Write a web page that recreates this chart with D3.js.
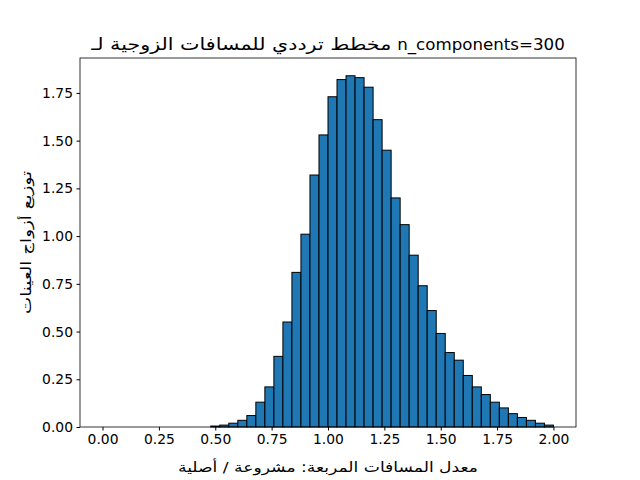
<!DOCTYPE html>
<html><head><meta charset="utf-8">
<script src="https://cdn.jsdelivr.net/npm/d3@7"></script>
<style>body{margin:0;background:#fff}text{font-family:"DejaVu Sans",sans-serif}</style>
</head><body><svg id="c" width="640" height="480"></svg>
<script>
const binStarts = d3.range(0, 50).map(i => +(i * 0.04).toFixed(2));
const densities = [0,0,0,0,0,0,0,0,0,0,0,0,
 0.005,0.01,0.02,0.035,0.06,0.13,0.21,0.37,0.55,0.81,1.01,1.32,1.53,1.73,1.82,1.84,1.83,1.78,1.61,1.45,1.20,1.06,0.90,0.74,0.61,0.49,0.39,0.35,0.27,0.21,0.17,0.13,0.10,0.07,0.05,0.035,0.02,0.01];
const binWidth = 0.04;
const xTicks = [0,0.25,0.5,0.75,1,1.25,1.5,1.75,2];
const yTicks = [0,0.25,0.5,0.75,1,1.25,1.5,1.75];
const titleAr = "مخطط ترددي للمسافات الزوجية لـ";
const titleEn = "n_components=300";
const xLabel = "معدل المسافات المربعة: مشروعة / أصلية";
const yLabel = "توزيع أزواج العينات";

const svg = d3.select("#c");
const L=80,R=576,T=58,B=427;
const x = d3.scaleLinear().domain([-0.1,2.1]).range([L,R]);
const y = d3.scaleLinear().domain([0,1.933]).range([B,T]);
svg.append("g").selectAll("rect").data(binStarts).join("rect")
 .attr("x",d=>x(d)).attr("width",d=>x(d+binWidth)-x(d))
 .attr("y",(d,i)=>y(densities[i])).attr("height",(d,i)=>B-y(densities[i]))
 .attr("fill","#1f77b4").attr("stroke","#000").attr("stroke-width",1);
const xa = svg.append("g").attr("transform",`translate(0,${B})`)
 .call(d3.axisBottom(x).tickValues(xTicks).tickFormat(d3.format(".2f")).tickSizeOuter(0).tickSize(3.5).tickPadding(3.5));
const ya = svg.append("g").attr("transform",`translate(${L},0)`)
 .call(d3.axisLeft(y).tickValues(yTicks).tickFormat(d3.format(".2f")).tickSizeOuter(0).tickSize(3.5).tickPadding(3.5));
[xa,ya].forEach(a=>{a.selectAll("text").attr("font-size",10*1.389).attr("fill","#000");a.select(".domain").remove();a.selectAll("line").attr("stroke","#000");});
svg.append("rect").attr("x",L).attr("y",T).attr("width",R-L).attr("height",B-T).attr("fill","none").attr("stroke","#000").attr("stroke-width",0.8);
const fs = 12*1.389, gap = 6;
const t = svg.append("text").attr("y",T-8).attr("font-size",fs).text(titleAr)
 .attr("textLength",300).attr("lengthAdjust","spacingAndGlyphs");
const t2 = svg.append("text").attr("y",T-8).attr("font-size",fs).text(titleEn);
const w1 = 300, w2 = t2.node().getComputedTextLength();
const x0 = (L+R)/2 - (w1+w2+gap)/2;
t.attr("x",x0+w1).attr("text-anchor","end"); t2.attr("x",x0+w1+gap);
svg.append("text").attr("x",(L+R)/2).attr("y",472).attr("text-anchor","middle").attr("font-size",10*1.389)
 .attr("textLength",300).attr("lengthAdjust","spacingAndGlyphs").text(xLabel);
svg.append("text").attr("transform",`translate(31,${(T+B)/2}) rotate(-90)`).attr("text-anchor","middle").attr("font-size",10*1.389)
 .attr("textLength",143).attr("lengthAdjust","spacingAndGlyphs").text(yLabel);
</script></body></html>
